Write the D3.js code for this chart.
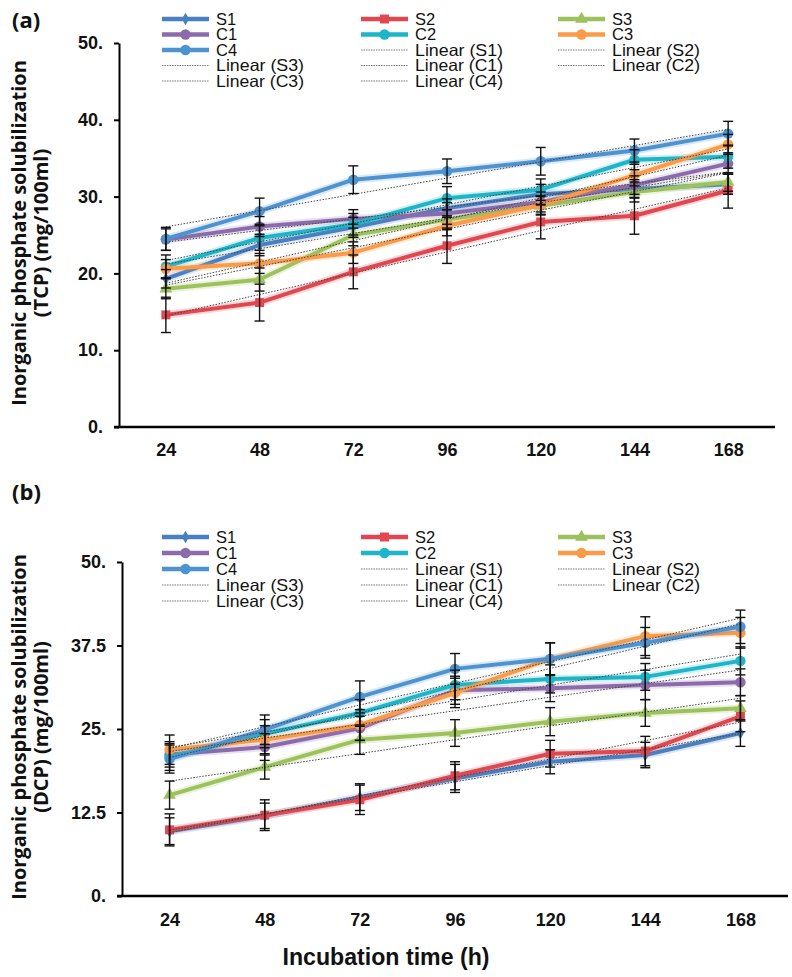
<!DOCTYPE html>
<html><head><meta charset="utf-8">
<script src="https://cdn.jsdelivr.net/npm/d3@7"></script>
<style>body{margin:0;background:#fff} svg{display:block}</style>
</head><body>
<svg id="chart" width="792" height="977"></svg>
<script>
// ---------- data ----------
const categories = ["24","48","72","96","120","144","168"];
const seriesNames = ["S1","S2","S3","C1","C2","C3","C4"];
const seriesColors = ["#4a80c2","#e0474f","#9dc25c","#8b6bab","#1db5c8","#fb9a48","#4c93d0"];
const seriesShapes = ["diamond","square","triangle","circle","circle","circle","circle"];

// (a) TCP (mg/100ml)
const tcpS1 = [19.3, 23.7, 26.0, 28.5, 30.3, 31.0, 31.6];
const tcpS2 = [14.6, 16.2, 20.2, 23.6, 26.7, 27.5, 30.8];
const tcpS3 = [18.0, 19.2, 25.0, 27.0, 28.8, 30.6, 31.9];
const tcpC1 = [24.4, 26.1, 27.1, 27.8, 29.3, 31.5, 34.3];
const tcpC2 = [20.9, 24.6, 26.4, 29.8, 30.9, 34.8, 35.2];
const tcpC3 = [20.6, 21.3, 22.7, 26.2, 28.9, 32.8, 36.8];
const tcpC4 = [24.5, 28.1, 32.2, 33.3, 34.6, 36.0, 38.2];
const tcpErrS1 = [1.2, 1.4, 1.3, 1.2, 1.3, 1.2, 1.3];
const tcpErrS2 = [2.3, 2.4, 2.2, 2.3, 2.2, 2.4, 2.3];
const tcpErrS3 = [1.3, 1.5, 1.4, 1.3, 1.2, 1.3, 1.2];
const tcpErrC1 = [1.4, 1.3, 1.2, 1.4, 1.3, 1.2, 1.4];
const tcpErrC2 = [1.5, 1.6, 1.4, 1.5, 1.4, 1.3, 1.5];
const tcpErrC3 = [1.2, 1.3, 1.4, 1.3, 1.2, 1.4, 1.3];
const tcpErrC4 = [1.5, 1.7, 1.8, 1.6, 1.8, 1.5, 1.6];
const tcpTickValues = [0, 10, 20, 30, 40, 50];
const tcpTickLabels = ["0.", "10.", "20.", "30.", "40.", "50."];

// (b) DCP (mg/100ml)
const dcpS1 = [9.7, 12.0, 14.8, 17.6, 20.1, 21.1, 24.4];
const dcpS2 = [9.9, 12.1, 14.4, 18.0, 21.3, 21.7, 26.9];
const dcpS3 = [15.1, 19.3, 23.4, 24.4, 26.1, 27.4, 28.1];
const dcpC1 = [21.2, 22.3, 25.1, 30.8, 31.1, 31.6, 32.0];
const dcpC2 = [20.8, 24.3, 27.4, 31.6, 32.5, 32.8, 35.2];
const dcpC3 = [21.9, 23.4, 25.6, 30.4, 35.5, 38.9, 39.4];
const dcpC4 = [20.5, 24.9, 29.8, 34.0, 35.5, 37.9, 40.3];
const dcpErrS1 = [2.0, 1.9, 2.0, 2.1, 1.8, 1.9, 2.0];
const dcpErrS2 = [2.4, 2.3, 2.2, 2.1, 2.0, 2.2, 2.3];
const dcpErrS3 = [2.1, 1.8, 2.2, 2.0, 2.1, 2.0, 1.9];
const dcpErrC1 = [1.9, 2.0, 1.8, 2.1, 2.0, 2.2, 2.0];
const dcpErrC2 = [2.0, 2.1, 2.0, 2.2, 2.1, 2.0, 2.1];
const dcpErrC3 = [2.2, 2.1, 2.3, 2.2, 2.4, 2.9, 2.3];
const dcpErrC4 = [2.1, 2.2, 2.4, 2.3, 2.4, 2.3, 2.5];
const dcpTickValues = [0, 12.5, 25, 37.5, 50];
const dcpTickLabels = ["0.", "12.5", "25.", "37.5", "50."];

const legendLabels = ["S1","S2","S3","C1","C2","C3","C4",
  "Linear (S1)","Linear (S2)","Linear (S3)","Linear (C1)","Linear (C2)","Linear (C3)","Linear (C4)"];

// ---------- drawing ----------
const svg = d3.select("#chart");
const sans = "'Liberation Sans',Arial,sans-serif";
const titleFont = "'Open Sans','Liberation Sans',Arial,sans-serif";

const symbolMap = {diamond: d3.symbolDiamond, square: d3.symbolSquare, triangle: d3.symbolTriangle, circle: d3.symbolCircle};
const symbolSize = {diamond: 45, square: 80, triangle: 70, circle: 85};

function linreg(vals) {
  const n = vals.length;
  const xs = d3.range(n);
  const mx = d3.mean(xs), my = d3.mean(vals);
  const b = d3.sum(xs, (x, i) => (x - mx) * (vals[i] - my)) / d3.sum(xs, x => (x - mx) * (x - mx));
  const a = my - b * mx;
  return xs.map(x => a + b * x);
}

function drawPanel(cfg) {
  const g = svg.append("g");
  const x = d3.scalePoint().domain(categories).range([cfg.xLeft, cfg.xRight]).padding(0.5);
  const y = d3.scaleLinear().domain([0, 50]).range([cfg.y0, cfg.y50]);

  // panel letter
  g.append("text").attr("x", 12).attr("y", cfg.letterY).text(cfg.letter)
    .attr("font-family", titleFont).attr("font-weight", "bold").attr("font-size", 22).attr("fill", "#111");

  // y axis
  const ya = g.append("g").attr("transform", `translate(${cfg.xLeft},0)`)
    .call(d3.axisLeft(y).tickValues(cfg.tickValues).tickFormat((d, i) => cfg.tickLabels[i])
      .tickSize(5).tickSizeOuter(0).tickPadding(11));
  ya.select(".domain").attr("stroke", "#000").attr("stroke-width", 2);
  ya.selectAll(".tick line").attr("stroke", "#000").attr("stroke-width", 2);
  ya.selectAll(".tick text").attr("font-family", sans).attr("font-weight", "bold").attr("font-size", 18).attr("fill", "#111");

  // x axis
  const xa = g.append("g").attr("transform", `translate(0,${cfg.y0})`)
    .call(d3.axisBottom(x).tickSize(0).tickSizeOuter(0).tickPadding(cfg.xPad));
  xa.select(".domain").attr("stroke", "#000").attr("stroke-width", 2.5)
    .attr("d", `M${cfg.xLeft - 5},0H${cfg.xRight}`);
  xa.selectAll(".tick text").attr("font-family", sans).attr("font-weight", "bold").attr("font-size", 18).attr("fill", "#111");

  // y axis title
  const tx = 19, ty = (cfg.y0 + cfg.y50) / 2 - 2;
  const yt = g.append("text").attr("transform", `translate(${tx},${ty}) rotate(-90)`)
    .attr("text-anchor", "middle").attr("font-family", titleFont).attr("font-weight", "bold")
    .attr("font-size", 20).attr("fill", "#111");
  yt.append("tspan").attr("x", 0).attr("dy", "0.35em").text("Inorganic phosphate solubilization");
  yt.append("tspan").attr("x", 0).attr("dy", "1.1em").text(cfg.ytitle2);

  // series
  const line = d3.line().x((d, i) => x(categories[i])).y(d => y(d));
  const layer = g.append("g");
  cfg.series.forEach((vals, k) => {
    layer.append("path").datum(vals).attr("d", line).attr("fill", "none")
      .attr("stroke", seriesColors[k]).attr("stroke-width", 8).attr("stroke-opacity", 0.2)
      .attr("stroke-linejoin", "round");
    layer.append("path").datum(vals).attr("d", line).attr("fill", "none")
      .attr("stroke", seriesColors[k]).attr("stroke-width", 4).attr("stroke-linejoin", "round");
    layer.selectAll(null).data(vals).enter().append("path")
      .attr("transform", (d, i) => `translate(${x(categories[i])},${y(d)})`)
      .attr("d", d3.symbol().type(symbolMap[seriesShapes[k]]).size(symbolSize[seriesShapes[k]]))
      .attr("fill", seriesColors[k]);
  });
  // trendlines
  cfg.series.forEach((vals) => {
    const fit = linreg(vals);
    g.append("path").datum(fit).attr("d", line).attr("fill", "none")
      .attr("stroke", "#444").attr("stroke-width", 1).attr("stroke-dasharray", "1.5,1.5");
  });
  // error bars
  const eb = g.append("g").attr("stroke", "#111").attr("stroke-width", 1.4);
  cfg.series.forEach((vals, k) => {
    vals.forEach((v, i) => {
      const cx = x(categories[i]), e = cfg.errors[k][i];
      eb.append("line").attr("x1", cx).attr("x2", cx).attr("y1", y(v - e)).attr("y2", y(v + e));
      eb.append("line").attr("x1", cx - 5).attr("x2", cx + 5).attr("y1", y(v - e)).attr("y2", y(v - e));
      eb.append("line").attr("x1", cx - 5).attr("x2", cx + 5).attr("y1", y(v + e)).attr("y2", y(v + e));
    });
  });

  // legend
  const cols = [162, 361, 558];
  const lg = g.append("g");
  legendLabels.forEach((lab, idx) => {
    const c = idx % 3, r = Math.floor(idx / 3);
    const lx = cols[c], ly = cfg.legendY + r * cfg.legendStep;
    if (idx < 7) {
      lg.append("line").attr("x1", lx).attr("x2", lx + 47).attr("y1", ly).attr("y2", ly)
        .attr("stroke", seriesColors[idx]).attr("stroke-width", 4.5);
      lg.append("path").attr("transform", `translate(${lx + 23.5},${ly})`)
        .attr("d", d3.symbol().type(symbolMap[seriesShapes[idx]]).size(symbolSize[seriesShapes[idx]]))
        .attr("fill", seriesColors[idx]);
    } else {
      lg.append("line").attr("x1", lx).attr("x2", lx + 47).attr("y1", ly).attr("y2", ly)
        .attr("stroke", "#777").attr("stroke-width", 1).attr("stroke-dasharray", "1.5,1");
    }
    lg.append("text").attr("x", lx + 54).attr("y", ly).attr("dy", "0.36em").text(lab)
      .attr("font-family", sans).attr("font-size", 16.5).attr("fill", "#111")
      .attr("textLength", lab.length > 2 ? 88 : null).attr("lengthAdjust", "spacingAndGlyphs");
  });
}

drawPanel({
  letter: "(a)", letterY: 28,
  xLeft: 119, xRight: 775, y0: 427, y50: 43, xPad: 16,
  tickValues: tcpTickValues, tickLabels: tcpTickLabels,
  ytitle2: "(TCP) (mg/100ml)",
  series: [tcpS1, tcpS2, tcpS3, tcpC1, tcpC2, tcpC3, tcpC4],
  errors: [tcpErrS1, tcpErrS2, tcpErrS3, tcpErrC1, tcpErrC2, tcpErrC3, tcpErrC4],
  legendY: 19, legendStep: 15.5
});
drawPanel({
  letter: "(b)", letterY: 500,
  xLeft: 122, xRight: 788, y0: 896, y50: 562, xPad: 17,
  tickValues: dcpTickValues, tickLabels: dcpTickLabels,
  ytitle2: "(DCP) (mg/100ml)",
  series: [dcpS1, dcpS2, dcpS3, dcpC1, dcpC2, dcpC3, dcpC4],
  errors: [dcpErrS1, dcpErrS2, dcpErrS3, dcpErrC1, dcpErrC2, dcpErrC3, dcpErrC4],
  legendY: 537, legendStep: 16
});

svg.append("text").attr("x", 386).attr("y", 957).attr("dy", "0.35em").attr("text-anchor", "middle")
  .text("Incubation time (h)").attr("font-family", sans).attr("font-weight", "bold")
  .attr("font-size", 23.5).attr("textLength", 207).attr("lengthAdjust", "spacingAndGlyphs").attr("fill", "#111");
</script>
</body></html>
